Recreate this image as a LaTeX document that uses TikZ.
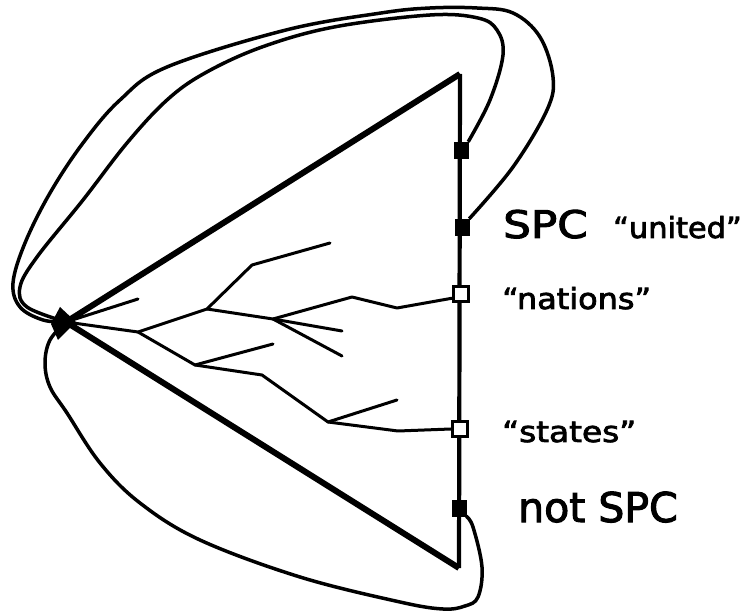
\documentclass[tikz,border=0pt]{standalone}
\usepackage{fontspec}
\usepackage{graphicx}
\setmainfont{DejaVu Sans}
\newfontfamily\lblfont{DejaVu Sans}[FakeBold=2.5]
\begin{document}
\begin{tikzpicture}[x=1pt,y=-1pt,
  tri/.style={line width=6pt},
  side/.style={line width=4.2pt},
  loopline/.style={line width=3.5pt, line join=round},
  branch/.style={line width=3pt, line join=round, line cap=round},
  fsq/.style={draw=black, fill=black, minimum width=14pt, minimum height=16pt, inner sep=0pt},
  osq/.style={draw=black, fill=white, line width=3.2pt, minimum width=15pt, minimum height=15pt, inner sep=0pt},
  lbl/.style={anchor=base west, inner sep=0pt, font=\lblfont},
]
\useasboundingbox (0,0) rectangle (748,612);
% triangle
\coordinate (apex) at (66,322);
\coordinate (top) at (460,74);
\coordinate (bot) at (459,568);
\draw[side] (top) -- (bot);
\draw[tri] (apex) -- (top);
\draw[tri] (apex) -- (bot);
% tree
\coordinate (Q) at (138,299);
\coordinate (A) at (138,332);
\coordinate (B) at (207,309);
\coordinate (C) at (252,265);
\coordinate (D) at (330,243);
\coordinate (E) at (273,319);
\coordinate (F) at (352,297);
\coordinate (G) at (397,308);
\coordinate (I) at (342,331);
\coordinate (J) at (342,356);
\coordinate (K) at (195,365);
\coordinate (L) at (273,344);
\coordinate (M) at (262,375);
\coordinate (N) at (328,422);
\coordinate (O) at (397,400);
\coordinate (P) at (398,431);
% squares
\node[fsq] (u1) at (461,150) {};
\node[fsq] (u2) at (462,227) {};
\node[osq] (nat) at (461,294) {};
\node[osq] (sta) at (460,429) {};
\node[fsq] (nsp) at (459,508) {};
\draw[branch] (apex) -- (Q);
\draw[branch] (apex) -- (A) -- (B) -- (C) -- (D);
\draw[branch] (B) -- (E) -- (F) -- (G) -- (nat.205);
\draw[branch] (E) -- (I);
\draw[branch] (E) -- (J);
\draw[branch] (A) -- (K) -- (L);
\draw[branch] (K) -- (M) -- (N) -- (O);
\draw[branch] (N) -- (P) -- (sta.west);
% loops
\draw[loopline] plot[smooth, tension=0.6] coordinates {(u1.north east) (490,100) (503,55) (497,30) (478,18) (430,15) (334,27) (262,47) (205,73) (167,100) (127,143) (83,200) (37,257) (20,287) (27,307) (apex)};
\draw[loopline] plot[smooth, tension=0.6] coordinates {(u2.north east) (513,167) (547,110) (553,77) (540,37) (513,13) (477,8) (430,8) (381,13) (286,30) (167,67) (120,100) (83,143) (50,193) (25,243) (13,283) (20,307) (43,320) (apex)};
\draw[loopline] plot[smooth, tension=0.6] coordinates {(nsp.south east) (473,527) (482,567) (478,597) (465,606) (443,609) (400,602) (300,577) (200,540) (140,503) (100,463) (67,413) (50,387) (45,363) (50,340) (apex)};
% apex marker
\fill (60,307) -- (76,322) -- (58,340) -- (51,324) -- cycle;
% labels
\node[lbl] (spc) at (503,238) {\fontsize{38}{38}\selectfont\scalebox{1.15}[1]{SPC}};
\node[lbl] (uni) at (613,238) {\fontsize{29}{29}\selectfont\scalebox{1.05}[1]{“united”}};
\node[lbl] (natl) at (502,309) {\fontsize{29}{29}\selectfont\scalebox{1.1}[1]{“nations”}};
\node[lbl] (stal) at (502,442) {\fontsize{29}{29}\selectfont\scalebox{1.13}[1]{“states”}};
\node[lbl] (nspl) at (518,522) {\fontsize{41}{41}\selectfont not SPC};
\end{tikzpicture}
\end{document}
